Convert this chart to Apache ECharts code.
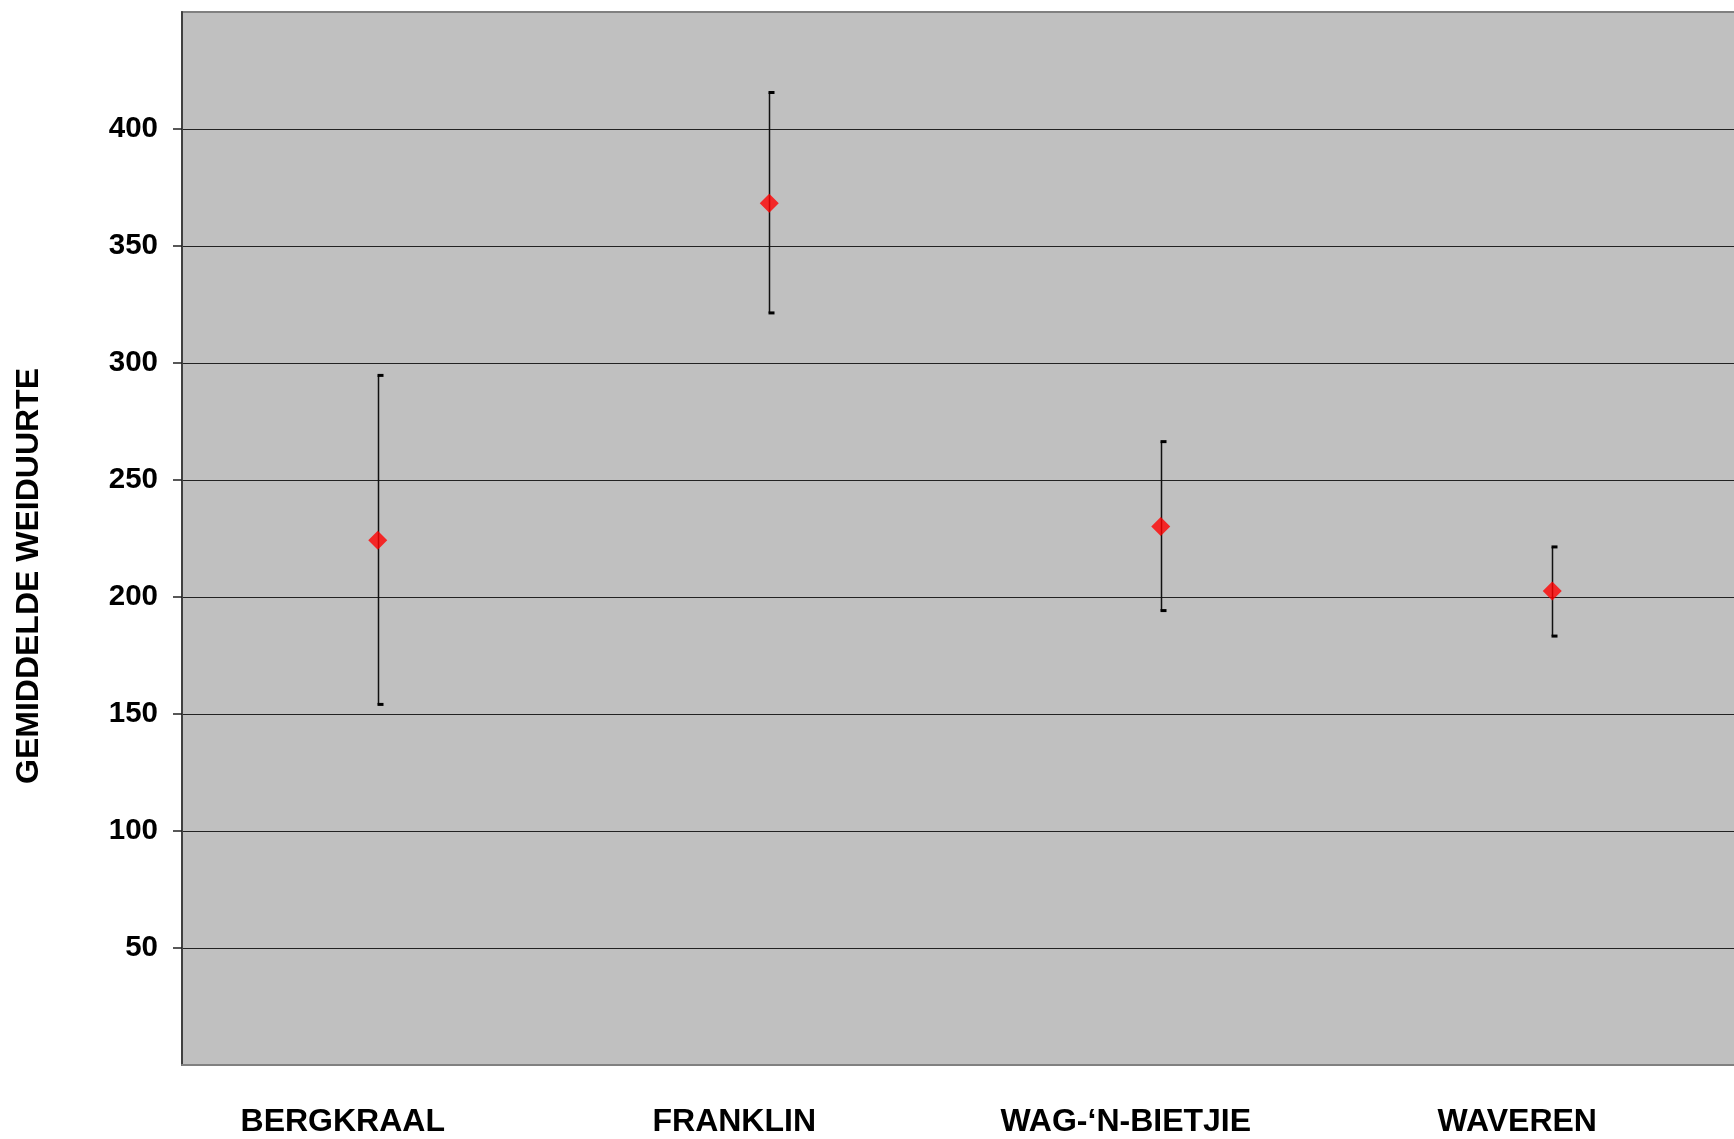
<!DOCTYPE html>
<html>
<head>
<meta charset="utf-8">
<script src="https://cdn.jsdelivr.net/npm/echarts@6/dist/echarts.min.js"></script>
<style>
  html, body { margin: 0; padding: 0; background: #fff; }
  #chart { width: 1734px; height: 1139px; }
</style>
</head>
<body>
<div id="chart"></div>
<script>
// farm names on the x axis
const categories = ["BERGKRAAL", "FRANKLIN", "WAG-\u2018N-BIETJIE", "WAVEREN"];
// mean grazing hours (red diamonds)
const means = [224.3, 368.3, 230.1, 202.6];
// error bar ends
const upper = [294.7, 415.6, 266.4, 221.4];
const lower = [154.1, 321.4, 194.2, 183.3];

const font = "'Liberation Sans', Arial, sans-serif";

let chart = echarts.init(document.getElementById("chart"));

// error bars: vertical line + small caps sticking out to the right
function renderBar(params, api) {
  const i = api.value(0);
  const top = api.coord([i, api.value(1)]);
  const bot = api.coord([i, api.value(2)]);
  const x = Math.round(top[0]) + 0.5;
  const style = { stroke: "#111", lineWidth: 1.5 };
  const capStyle = { stroke: "#000", lineWidth: 3 };
  return {
    type: "group",
    children: [
      { type: "line", shape: { x1: x, y1: top[1], x2: x, y2: bot[1] }, style: style },
      { type: "line", shape: { x1: x - 1, y1: top[1], x2: x + 5, y2: top[1] }, style: capStyle },
      { type: "line", shape: { x1: x - 1, y1: bot[1], x2: x + 5, y2: bot[1] }, style: capStyle }
    ]
  };
}

chart.setOption({
  animation: false,
  backgroundColor: "#fff",
  grid: {
    left: 182,
    top: 12,
    right: -14,
    bottom: 74,
    outerBoundsMode: "none",
    containLabel: false,
    show: true,
    backgroundColor: "#c0c0c0",
    borderColor: "#808080",
    borderWidth: 2
  },
  xAxis: {
    type: "category",
    data: categories,
    axisTick: { show: false },
    axisLine: { lineStyle: { color: "#808080", width: 2 } },
    axisLabel: {
      color: "#000",
      fontFamily: font,
      fontWeight: "bold",
      fontSize: 32,
      margin: 41,
      padding: [0, 70, 0, 0]
    }
  },
  yAxis: {
    type: "value",
    min: 0,
    max: 450,
    interval: 50,
    axisLine: { show: true, lineStyle: { color: "#404040", width: 2 } },
    axisTick: { show: true, length: 9, lineStyle: { color: "#222", width: 1.5 } },
    axisLabel: {
      color: "#000",
      fontFamily: font,
      fontWeight: "bold",
      fontSize: 29.5,
      margin: 24,
      showMinLabel: false,
      showMaxLabel: false
    },
    splitLine: {
      show: true,
      showMinLine: false,
      showMaxLine: false,
      lineStyle: { color: "#222", width: 1.2 }
    }
  },
  graphic: [
    {
      type: "text",
      x: 29,
      y: 576,
      rotation: Math.PI / 2,
      style: {
        text: "GEMIDDELDE WEIDUURTE",
        fill: "#000",
        font: "bold 32px " + font,
        align: "center",
        verticalAlign: "middle"
      }
    }
  ],
  series: [
    {
      type: "custom",
      renderItem: renderBar,
      data: categories.map((c, i) => [i, upper[i], lower[i]]),
      encode: { x: 0, y: [1, 2] },
      z: 2
    },
    {
      type: "scatter",
      data: means,
      symbol: "diamond",
      symbolSize: 19,
      itemStyle: { color: "#ff0000" },
      z: 3
    }
  ]
});
</script>
</body>
</html>
